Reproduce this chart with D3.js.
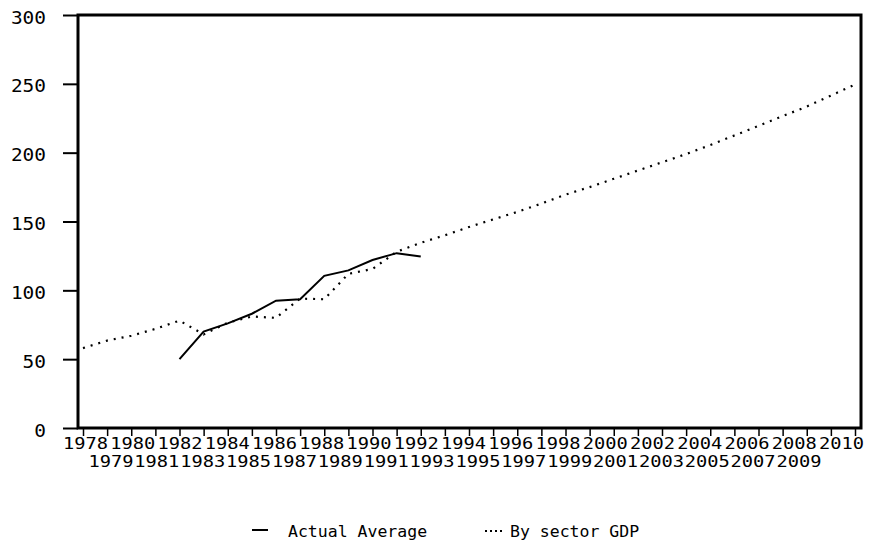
<!DOCTYPE html>
<html>
<head>
<meta charset="utf-8">
<script src="https://cdn.jsdelivr.net/npm/d3@7"></script>
<style>
  html, body { margin: 0; padding: 0; background: #fff; }
  text { font-family: "DejaVu Sans Mono", monospace; fill: #000; }
</style>
</head>
<body>
<div id="chart"></div>
<script>
// ---- data ----
const years = d3.range(1978, 2011);
const yTicks = [0, 50, 100, 150, 200, 250, 300];

const actualYears = [1982, 1983, 1984, 1985, 1986, 1987, 1988, 1989, 1990, 1991, 1992];
const actualAvg   = [50, 70, 76, 83, 92.5, 93.5, 110.5, 114.5, 122, 127, 124.5];

const gdpYears = years;
const bySectorGDP = [58, 63.5, 67, 72, 78, 68, 76.5, 81, 80, 94, 93.5,
  112, 115.5, 128, 134.5, 140, 146, 151.5, 157, 163, 169.5, 175, 181,
  187, 193, 199, 205.5, 212.5, 219.5, 226.5, 233.5, 241.5, 249.5];

const seriesNames = ["Actual Average", "By sector GDP"];

// ---- layout ----
const width = 883, height = 555;
const plotLeft = 78, plotRight = 861, plotTop = 15, plotBottom = 428;

const svg = d3.select("#chart").append("svg")
  .attr("width", width)
  .attr("height", height);

const x = d3.scaleLinear().domain([1978, 2010]).range([83, 855]);
const y = d3.scaleLinear().domain([0, 300]).range([plotBottom, plotTop]);

// label rows in the old printout drift a bit from the ticks
const labelRow1 = d3.scaleLinear().domain([1978, 2010]).range([85.5, 841.5]);
const labelRow2 = d3.scaleLinear().domain([1979, 2009]).range([111, 799]);

// y axis
const yAxis = svg.append("g")
  .attr("transform", `translate(${plotLeft},0)`)
  .call(d3.axisLeft(y).tickValues(yTicks).tickSize(15).tickPadding(17));
yAxis.select(".domain").remove();
yAxis.selectAll(".tick line").attr("stroke", "#000").attr("stroke-width", 2);
yAxis.selectAll(".tick text")
  .attr("font-size", 18)
  .attr("dy", "0.45em")
  .attr("textLength", d => String(d).length * 11.7)
  .attr("lengthAdjust", "spacingAndGlyphs");

// x axis ticks
const xAxis = svg.append("g")
  .attr("transform", `translate(0,${plotBottom})`)
  .call(d3.axisBottom(x).tickValues(years).tickSize(8).tickFormat(""));
xAxis.select(".domain").remove();
xAxis.selectAll(".tick line").attr("stroke", "#000").attr("stroke-width", 1.5);

// x labels on two staggered rows
svg.append("g").selectAll("text")
  .data(years)
  .join("text")
  .attr("x", d => (d % 2 === 0 ? labelRow1(d) : labelRow2(d)))
  .attr("y", d => (d % 2 === 0 ? 449 : 467))
  .attr("text-anchor", "middle")
  .attr("font-size", 16)
  .attr("textLength", 45)
  .attr("lengthAdjust", "spacingAndGlyphs")
  .text(d => d);

// frame
svg.append("rect")
  .attr("x", plotLeft).attr("y", plotTop)
  .attr("width", plotRight - plotLeft).attr("height", plotBottom - plotTop)
  .attr("fill", "none")
  .attr("stroke", "#000")
  .attr("stroke-width", 3);

// lines
const line = d3.line().x(d => x(d[0])).y(d => y(d[1]));

svg.append("path")
  .datum(d3.zip(gdpYears, bySectorGDP))
  .attr("d", line)
  .attr("fill", "none")
  .attr("stroke", "#000")
  .attr("stroke-width", 2.2)
  .attr("stroke-dasharray", "2,6");

svg.append("path")
  .datum(d3.zip(actualYears, actualAvg))
  .attr("d", line)
  .attr("fill", "none")
  .attr("stroke", "#000")
  .attr("stroke-width", 2);

// legend
const legend = svg.append("g");
legend.append("line")
  .attr("x1", 252).attr("x2", 268).attr("y1", 530).attr("y2", 530)
  .attr("stroke", "#000").attr("stroke-width", 2);
legend.append("text")
  .attr("x", 288).attr("y", 537)
  .attr("font-size", 16.5)
  .text(seriesNames[0]);
legend.append("line")
  .attr("x1", 485).attr("x2", 504).attr("y1", 531).attr("y2", 531)
  .attr("stroke", "#000").attr("stroke-width", 2)
  .attr("stroke-dasharray", "2,3");
legend.append("text")
  .attr("x", 510).attr("y", 537)
  .attr("font-size", 16.5)
  .text(seriesNames[1]);
</script>
</body>
</html>
